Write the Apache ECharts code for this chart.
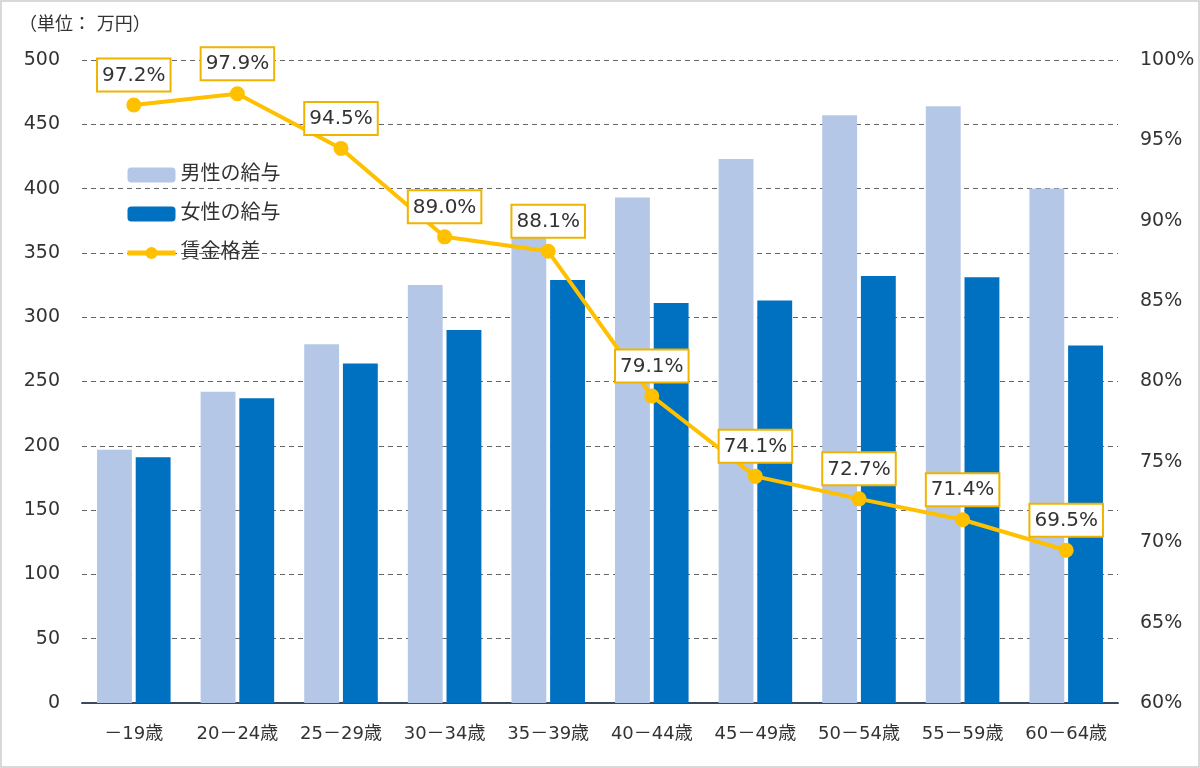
<!DOCTYPE html>
<html><head><meta charset="utf-8">
<script src="https://cdn.jsdelivr.net/npm/echarts@6/dist/echarts.min.js"></script>
<style>html,body{margin:0;padding:0;background:#fff}#c{width:1200px;height:768px;box-sizing:border-box;border:2px solid #d9d9d9}</style>
</head><body><div id="c"></div>
<script>
const categories = ['－19歳','20－24歳','25－29歳','30－34歳','35－39歳','40－44歳','45－49歳','50－54歳','55－59歳','60－64歳'];
const maleSalary = [197, 242, 279, 325, 365, 393, 423, 457, 464, 400];
const femaleSalary = [191, 237, 264, 290, 329, 311, 313, 332, 331, 278];
const wageGap = [97.2, 97.9, 94.5, 89.0, 88.1, 79.1, 74.1, 72.7, 71.4, 69.5];
const leftTicks = [0, 500, 50];
const rightTicks = [60, 100, 5];

const FONT = '"DejaVu Sans", "Noto Sans CJK JP", sans-serif';
const chart = echarts.init(document.getElementById('c'));
chart.setOption({
  animation: false,
  textStyle: {fontFamily: FONT},
  title: {text: '（単位： 万円）', left: 12, top: 9, textStyle: {fontSize: 18, fontWeight: 'normal', color: '#333', fontFamily: FONT}},
  legend: {
    orient: 'vertical', left: 118, top: 158, itemGap: 19, itemWidth: 48, itemHeight: 15,
    textStyle: {fontSize: 20, color: '#333', fontFamily: FONT},
    data: ['男性の給与', '女性の給与', {name: '賃金格差', lineStyle: {width: 5}}]
  },
  grid: {left: 80, right: 80, top: 58, bottom: 63, containLabel: false},
  xAxis: {
    type: 'category', data: categories,
    axisLine: {lineStyle: {color: '#3a4a5c', width: 2}},
    axisTick: {show: false},
    axisLabel: {interval: 0, fontSize: 18, color: '#333', margin: 22, fontFamily: FONT}
  },
  yAxis: [
    {type: 'value', min: leftTicks[0], max: leftTicks[1], interval: leftTicks[2],
     axisLabel: {fontSize: 19, color: '#333', margin: 22, fontFamily: FONT},
     splitLine: {lineStyle: {type: [5, 4], color: '#666', width: 1}},
     axisLine: {show: false}, axisTick: {show: false}},
    {type: 'value', min: rightTicks[0], max: rightTicks[1], interval: rightTicks[2],
     axisLabel: {fontSize: 19, color: '#333', margin: 22, formatter: '{value}%', fontFamily: FONT},
     splitLine: {show: false}, axisLine: {show: false}, axisTick: {show: false}}
  ],
  series: [
    {name: '男性の給与', type: 'bar', data: maleSalary, barGap: '11%', barCategoryGap: '29%',
     itemStyle: {color: '#b4c7e7'}},
    {name: '女性の給与', type: 'bar', data: femaleSalary,
     itemStyle: {color: '#0070c0'}},
    {name: '賃金格差', type: 'line', yAxisIndex: 1, data: wageGap,
     lineStyle: {color: '#ffc000', width: 4}, itemStyle: {color: '#ffc000'},
     symbol: 'circle', symbolSize: 15, z: 5,
     label: {show: true, position: 'top', distance: 7, fontSize: 20, color: '#333',
       formatter: p => p.value.toFixed(1) + '%',
       backgroundColor: '#fff', borderColor: '#f0b400', borderWidth: 2,
       padding: [6, 4, 5, 4], fontFamily: FONT}}
  ]
});
</script></body></html>
